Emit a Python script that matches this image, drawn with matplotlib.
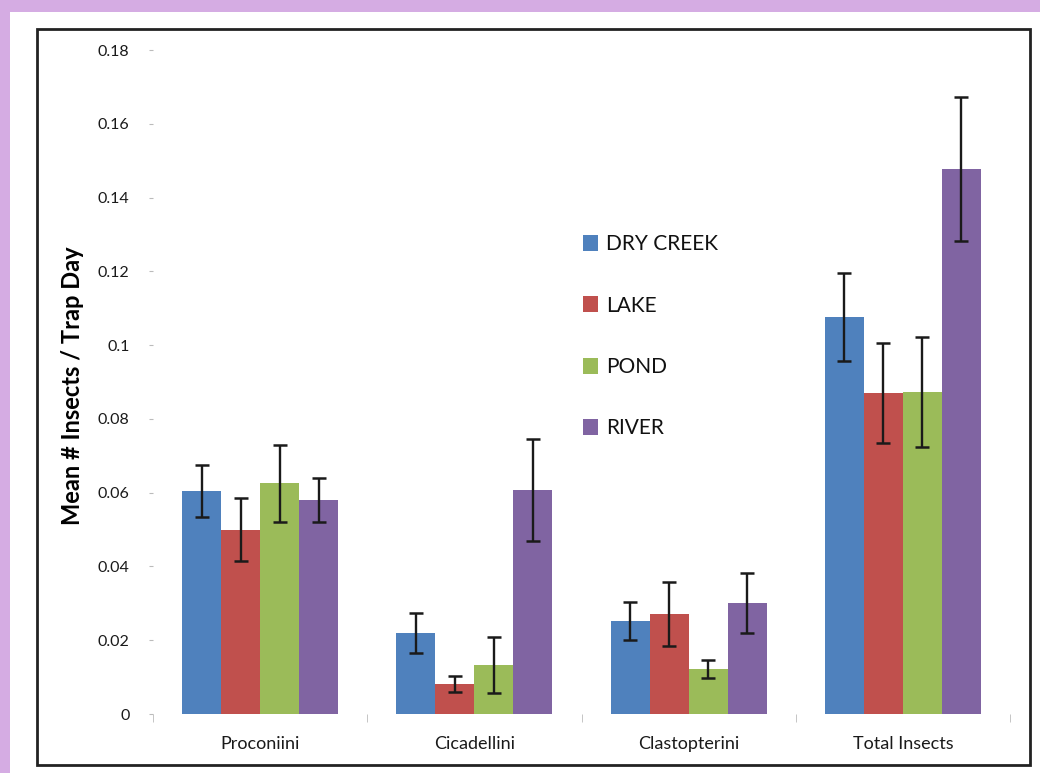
import numpy as np
import matplotlib.pyplot as plt
from matplotlib.patches import Rectangle

plt.rcParams["font.family"] = ["Lato", "DejaVu Sans"]

# ---- data ----
groups = ["Proconiini", "Cicadellini", "Clastopterini", "Total Insects"]
sites = ["DRY CREEK", "LAKE", "POND", "RIVER"]
colors = ["#4F81BD", "#C0504D", "#9BBB59", "#8064A2"]

dry_creek = [0.0605, 0.0220, 0.0252, 0.1076]
lake = [0.0500, 0.0081, 0.0271, 0.0870]
pond = [0.0625, 0.0133, 0.0122, 0.0873]
river = [0.0580, 0.0607, 0.0301, 0.1477]

dry_creek_err = [0.0070, 0.0054, 0.0052, 0.0120]
lake_err = [0.0086, 0.0022, 0.0087, 0.0136]
pond_err = [0.0105, 0.0076, 0.0024, 0.0150]
river_err = [0.0060, 0.0138, 0.0081, 0.0195]

yticks = [0, 0.02, 0.04, 0.06, 0.08, 0.1, 0.12, 0.14, 0.16, 0.18]
ytick_labels = ["0", "0.02", "0.04", "0.06", "0.08", "0.1", "0.12", "0.14", "0.16", "0.18"]

values = [dry_creek, lake, pond, river]
errors = [dry_creek_err, lake_err, pond_err, river_err]

# ---- figure / frame ----
W, H = 1040, 773
fig = plt.figure(figsize=(W / 100, H / 100), dpi=100)
fig.patch.set_facecolor("#D5ACE3")
fig.add_artist(Rectangle((10 / W, 0), 1, 1 - 12 / H, transform=fig.transFigure,
                         facecolor="white", edgecolor="none", zorder=0))
fig.add_artist(Rectangle((37 / W, 1 - 765 / H), (1030 - 37) / W, (765 - 29) / H,
                         transform=fig.transFigure, facecolor="none",
                         edgecolor="#222222", linewidth=2, zorder=1))

ax = fig.add_axes([153 / W, 1 - 714 / H, (1010 - 153) / W, (714 - 50) / H])
ax.set_facecolor("none")

x = np.arange(len(groups))
bw = 0.182
for i, (vals, errs, c, lab) in enumerate(zip(values, errors, colors, sites)):
    ax.bar(x + (i - 1.5) * bw, vals, bw, color=c, label=lab, zorder=2,
           yerr=errs, capsize=5,
           error_kw=dict(ecolor="#1a1a1a", elinewidth=1.7, capthick=1.8))

ax.set_xlim(-0.5, 3.5)
ax.set_ylim(0, 0.18)
ax.set_yticks(yticks)
ax.set_yticklabels(ytick_labels)
ax.set_xticks(x)
ax.set_xticklabels(groups)
ax.set_xticks(np.arange(-0.5, 4, 1), minor=True)
ax.tick_params(axis="x", which="major", length=0, pad=16, labelsize=13, colors="#1a1a1a")
ax.tick_params(axis="x", which="minor", length=6, color="#BBBBBB", direction="out")
ax.tick_params(axis="y", length=3, color="#BBBBBB", pad=14, labelsize=11.5,
               labelcolor="#1a1a1a")
for s in ax.spines.values():
    s.set_visible(False)

ax.set_ylabel("Mean # Insects / Trap Day", fontsize=17, fontweight="bold")
ax.yaxis.set_label_coords(-0.081, 0.495)

ax.legend(loc="upper left", bbox_to_anchor=((575 - 153) / (1010 - 153), (714 - 226) / (714 - 50)),
          frameon=False, fontsize=15, handlelength=0.7, handleheight=0.8,
          handletextpad=0.4, labelspacing=1.98, borderaxespad=0,
          labelcolor="#111111")

fig.savefig("out.png", dpi=100, facecolor=fig.get_facecolor())
